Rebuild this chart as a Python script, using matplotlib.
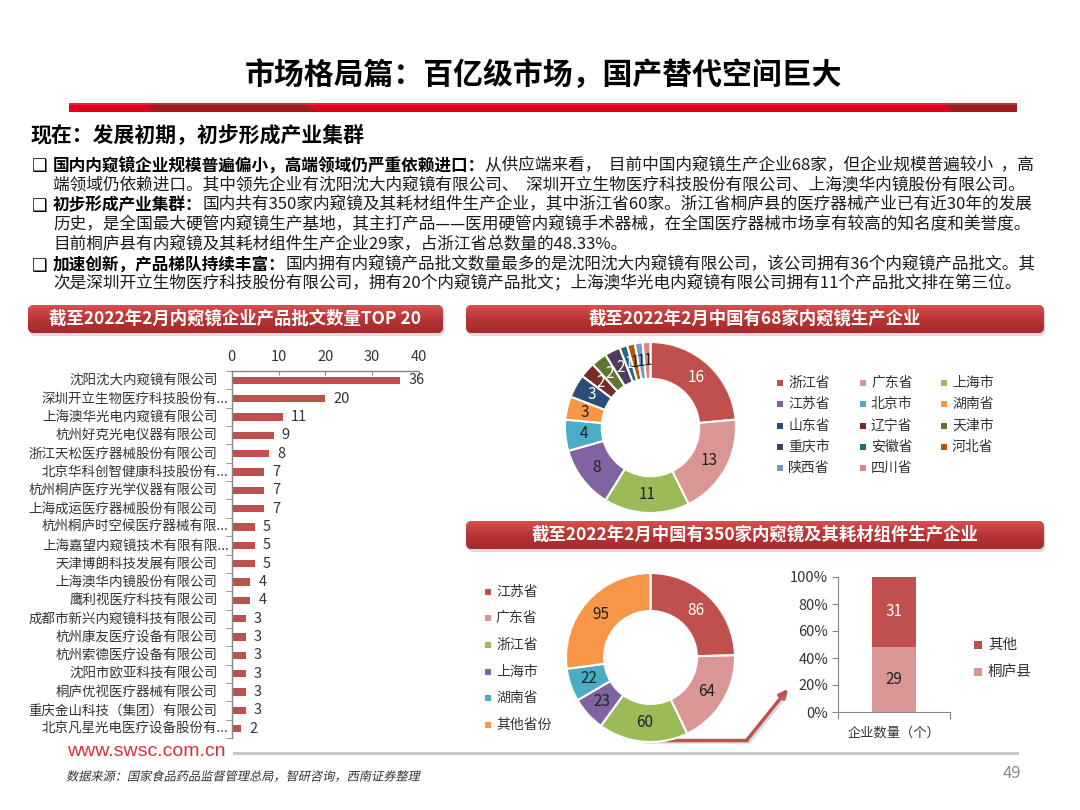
import numpy as np
import matplotlib
matplotlib.use('Agg')
import matplotlib.pyplot as plt
from matplotlib.patches import FancyBboxPatch, Rectangle, Polygon, PathPatch, FancyArrowPatch
from matplotlib.colors import LinearSegmentedColormap
from matplotlib.textpath import TextPath
from matplotlib.font_manager import FontProperties
import matplotlib.transforms as mtransforms

plt.rcParams['font.family'] = ['Noto Sans CJK SC', 'DejaVu Sans']

# ---------------- data ----------------
companies = ['沈阳沈大内窥镜有限公司', '深圳开立生物医疗科技股份有...', '上海澳华光电内窥镜有限公司',
             '杭州好克光电仪器有限公司', '浙江天松医疗器械股份有限公司', '北京华科创智健康科技股份有...',
             '杭州桐庐医疗光学仪器有限公司', '上海成运医疗器械股份有限公司', '杭州桐庐时空候医疗器械有限...',
             '上海嘉望内窥镜技术有限有限...', '天津博朗科技发展有限公司', '上海澳华内镜股份有限公司',
             '鹰利视医疗科技有限公司', '成都市新兴内窥镜科技有限公司', '杭州康友医疗设备有限公司',
             '杭州索德医疗设备有限公司', '沈阳市欧亚科技有限公司', '桐庐优视医疗器械有限公司',
             '重庆金山科技（集团）有限公司', '北京凡星光电医疗设备股份有...']
approvals = [36, 20, 11, 9, 8, 7, 7, 7, 5, 5, 5, 4, 4, 3, 3, 3, 3, 3, 3, 2]
bar_ticks = [0, 10, 20, 30, 40]

provinces68 = ['浙江省', '广东省', '上海市', '江苏省', '北京市', '湖南省', '山东省',
               '辽宁省', '天津市', '重庆市', '安徽省', '河北省', '陕西省', '四川省']
counts68 = [16, 13, 11, 8, 4, 3, 3, 2, 2, 2, 1, 1, 1, 1]
colors68 = ['#c0504d', '#d99694', '#9bbb59', '#8064a2', '#4bacc6', '#f79646', '#2c4d75',
            '#772c2a', '#5f7530', '#4d3b62', '#276a7c', '#b65708', '#729aca', '#d98785']
labcol68 = ['white', '#222', '#222', '#222', '#222', '#222', 'white',
            'white', 'white', 'white', 'white', '#222', '#222', '#222']

provinces350 = ['江苏省', '广东省', '浙江省', '上海市', '湖南省', '其他省份']
counts350 = [86, 64, 60, 23, 22, 95]
colors350 = ['#c0504d', '#d99694', '#9bbb59', '#8064a2', '#4bacc6', '#f79646']
labcol350 = ['white', '#222', '#222', '#222', '#222', '#222']

zj_labels = ['桐庐县', '其他']
zj_counts = [29, 31]
zj_colors = ['#d99694', '#c0504d']
pct_ticks = [0, 20, 40, 60, 80, 100]

title = '市场格局篇：百亿级市场，国产替代空间巨大'
heading = '现在：发展初期，初步形成产业集群'
body = [
    (True, [('国内内窥镜企业规模普遍偏小，高端领域仍严重依赖进口：', True),
            ('从供应端来看，  目前中国内窥镜生产企业68家，但企业规模普遍较小  ，高', False)]),
    (False, [('端领域仍依赖进口。其中领先企业有沈阳沈大内窥镜有限公司、  深圳开立生物医疗科技股份有限公司、上海澳华内镜股份有限公司。', False)]),
    (True, [('初步形成产业集群：', True),
            ('国内共有350家内窥镜及其耗材组件生产企业，其中浙江省60家。浙江省桐庐县的医疗器械产业已有近30年的发展', False)]),
    (False, [('历史，是全国最大硬管内窥镜生产基地，其主打产品——医用硬管内窥镜手术器械，在全国医疗器械市场享有较高的知名度和美誉度。', False)]),
    (False, [('目前桐庐县有内窥镜及其耗材组件生产企业29家，占浙江省总数量的48.33%。', False)]),
    (True, [('加速创新，产品梯队持续丰富：', True),
            ('国内拥有内窥镜产品批文数量最多的是沈阳沈大内窥镜有限公司，该公司拥有36个内窥镜产品批文。其', False)]),
    (False, [('次是深圳开立生物医疗科技股份有限公司，拥有20个内窥镜产品批文；上海澳华光电内窥镜有限公司拥有11个产品批文排在第三位。', False)]),
]
body_y = [166, 186, 205, 225, 245, 265, 284]
box_titles = ['截至2022年2月内窥镜企业产品批文数量TOP 20',
              '截至2022年2月中国有68家内窥镜生产企业',
              '截至2022年2月中国有350家内窥镜及其耗材组件生产企业']
source = '数据来源：国家食品药品监督管理总局，智研咨询，西南证券整理'

# ---------------- figure ----------------
W, H = 1080, 810
fig = plt.figure(figsize=(10.8, 8.1), dpi=100)
fig.patch.set_facecolor('white')
bg = fig.add_axes([0, 0, 1, 1])
bg.set_xlim(0, W)
bg.set_ylim(H, 0)
bg.axis('off')
bg.set_autoscale_on(False)
bg.set_zorder(0)


def rect(x0, y0, w, h):
    return [x0 / W, 1 - (y0 + h) / H, w / W, h / H]


# title
bg.text(544, 76, title, ha='center', va='center', fontsize=21.5, fontweight='bold', color='black')
# red rule
bg.add_patch(Polygon([[69, 103], [1017, 103], [1017, 112], [69, 112]], closed=True, color='#e2001a', lw=0))
bg.add_patch(Polygon([[145, 103], [305, 103], [318, 112], [157, 112]], closed=True, color='#a3191c', lw=0))
bg.add_patch(Polygon([[945, 103], [1017, 103], [1017, 112], [952, 112]], closed=True, color='#9e1b1e', lw=0))
bg.add_patch(Rectangle((69, 103), 948, 2, color='white', alpha=0.15, lw=0))

# heading
bg.text(31, 135, heading, ha='left', va='center', fontsize=15, fontweight='bold', color='black')

# body paragraphs
renderer = fig.canvas.get_renderer()
for (has_bullet, runs), yy in zip(body, body_y):
    if has_bullet:
        bg.text(32, yy + 0.5, '❑', ha='left', va='center', fontsize=12.5,
                family=['DejaVu Sans'], color='black')
    x = 53
    for txt, bold in runs:
        t = bg.text(x, yy, txt, ha='left', va='center', fontsize=12,
                    fontweight='bold' if bold else 'normal',
                    color='black' if bold else '#1a1a1a')
        bb = t.get_window_extent(renderer)
        x = bb.x1


# section header boxes
cmap_hdr = LinearSegmentedColormap.from_list('hdr', ['#d85050', '#b83535', '#a32a2a'])
grad = np.linspace(0, 1, 64).reshape(-1, 1)


def header_box(x0, y0, x1, y1, text, cx):
    sh = FancyBboxPatch((x0 + 1.5, y0 + 3), x1 - x0, y1 - y0,
                        boxstyle='round,pad=0,rounding_size=6', fc='#9a9a9a', ec='none', alpha=0.35)
    bg.add_patch(sh)
    p = FancyBboxPatch((x0, y0), x1 - x0, y1 - y0,
                       boxstyle='round,pad=0,rounding_size=6', fc='#c03a3a', ec='none')
    bg.add_patch(p)
    im = bg.imshow(grad, extent=(x0, x1, y1, y0), cmap=cmap_hdr, aspect='auto',
                   origin='upper', interpolation='bilinear', zorder=2)
    im.set_clip_path(p)
    bg.text(cx, (y0 + y1) / 2, text, ha='center', va='center', fontsize=12.5,
            fontweight='bold', color='white', zorder=3)


header_box(28, 305, 443, 333, box_titles[0], 235)
header_box(466, 305, 1044, 333, box_titles[1], 755)
header_box(466, 521, 1044, 549, box_titles[2], 755)

# ---------------- bar chart ----------------
axb = fig.add_axes(rect(231.7, 371, 187.3, 367))
axb.set_zorder(1)
axb.patch.set_alpha(0)
yy = np.arange(len(companies))
axb.barh(yy, approvals, height=0.4, color='#c0504d')
axb.set_xlim(0, 40)
axb.set_ylim(len(companies) - 0.5, -0.5)
axb.xaxis.tick_top()
axb.set_xticks(bar_ticks)
axb.set_xticklabels([str(v) for v in bar_ticks])
axb.tick_params(axis='x', direction='in', length=3, labelsize=10.5, pad=5,
                colors='#868686', labelcolor='#333333')
axb.set_yticks([])
axb.set_yticks(np.arange(-0.5, len(companies), 1), minor=True)
axb.tick_params(axis='y', which='minor', direction='out', length=4, color='#868686')
axb.tick_params(axis='y', which='minor', labelleft=False)
for s in ['right', 'bottom']:
    axb.spines[s].set_visible(False)
for s in ['left', 'top']:
    axb.spines[s].set_color('#868686')
    axb.spines[s].set_linewidth(1)
ytr = axb.get_yaxis_transform()
for i, (name, v) in enumerate(zip(companies, approvals)):
    off = -3 if name.endswith('...') else -14
    tr = mtransforms.offset_copy(ytr, fig=fig, x=off, y=0, units='dots')
    axb.text(0, i, name, transform=tr, ha='right', va='center', fontsize=9.7, color='#333333')
    axb.annotate(str(v), (v, i), xytext=(8, 0), textcoords='offset pixels',
                 ha='left', va='center', fontsize=10.5, color='#333333')


# ---------------- donuts ----------------
def donut(rc, values, colors, labcols, width):
    ax = fig.add_axes(rc)
    ax.set_zorder(1)
    wedges, _ = ax.pie(values, colors=colors, startangle=90, counterclock=False, radius=1,
                       wedgeprops=dict(width=width, edgecolor='white', linewidth=1.5))
    ax.set_xlim(-1, 1)
    ax.set_ylim(-1, 1)
    ax.set_aspect('equal')
    rm = 1 - width / 2
    for w, v, c in zip(wedges, values, labcols):
        ang = np.deg2rad((w.theta1 + w.theta2) / 2)
        ax.text(rm * np.cos(ang), rm * np.sin(ang), str(v), ha='center', va='center',
                fontsize=11, color=c)
    return ax


donut(rect(565, 342, 171, 171), counts68, colors68, labcol68, 0.43)

# legend 1 (3 columns)
leg_x = [777, 860, 941]
leg_y = [383, 404, 426, 447, 468]
for k, (name, c) in enumerate(zip(provinces68, colors68)):
    col, row = k % 3, k // 3
    x, y = leg_x[col], leg_y[row]
    bg.add_patch(Rectangle((x, y - 3), 6, 6, color=c, lw=0))
    bg.text(x + 11, y, name, ha='left', va='center', fontsize=10, color='#333333')

donut(rect(566, 573, 169, 169), counts350, colors350, labcol350, 0.45)
for k, (name, c) in enumerate(zip(provinces350, colors350)):
    y = [592, 618, 645, 672, 698, 725][k]
    bg.add_patch(Rectangle((485, y - 3), 6, 6, color=c, lw=0))
    bg.text(496, y, name, ha='left', va='center', fontsize=10, color='#333333')

# ---------------- stacked 100% bar ----------------
axs = fig.add_axes(rect(838, 577, 112, 135))
axs.set_zorder(1)
axs.patch.set_alpha(0)
fr = np.array(zj_counts) / np.sum(zj_counts)
bottom = 0
for v, f, c, tc in zip(zj_counts, fr, zj_colors, ['#222', 'white']):
    axs.bar(0.5, f, bottom=bottom, width=0.4, color=c)
    axs.text(0.5, bottom + f / 2, str(v), ha='center', va='center', fontsize=11, color=tc)
    bottom += f
axs.set_xlim(0, 1)
axs.set_ylim(0, 1)
axs.set_yticks(np.array(pct_ticks) / 100)
axs.set_yticklabels([f'{p}%' for p in pct_ticks])
axs.set_xticks([0, 1])
axs.set_xticklabels(['', ''])
axs.tick_params(axis='y', direction='out', length=4, labelsize=10.5, pad=3,
                colors='#868686', labelcolor='#333333')
axs.tick_params(axis='x', direction='out', length=5, colors='#868686')
for s in ['right', 'top']:
    axs.spines[s].set_visible(False)
for s in ['left', 'bottom']:
    axs.spines[s].set_color('#868686')
axs.text(0.5, -0.16, '企业数量（个）', transform=axs.transAxes, ha='center', va='center',
         fontsize=9.5, color='#333333')
for name, c, y in zip(zj_labels[::-1], zj_colors[::-1], [645, 672]):
    bg.add_patch(Rectangle((974, y - 4), 8, 8, color=c, lw=0))
    bg.text(988, y, name, ha='left', va='center', fontsize=10.5, color='#333333')

# ---------------- arrow ----------------
bg.plot([646, 749, 786], [742, 742, 696], color='#9a9a9a', lw=2.5, alpha=0.35, solid_capstyle='butt')
bg.plot([645, 748], [740, 740], color='#c0504d', lw=2.5, solid_capstyle='butt')
bg.add_patch(FancyArrowPatch((747, 740), (788, 689), arrowstyle='-|>', mutation_scale=12,
                             color='#c0504d', lw=2.5, shrinkA=0, shrinkB=0))

# ---------------- footer ----------------
bg.text(67, 752, 'www.swsc.com.cn', ha='left', va='center', fontsize=14,
        family=['Liberation Sans'], color='#d9303e')
bg.plot([234, 1017], [753, 753], color='#c8c8c8', lw=2.2)
fp = FontProperties(family='Noto Sans CJK SC')
tp = TextPath((0, 0), source, size=12.2, prop=fp)
src = PathPatch(tp, facecolor='#333333', lw=0,
                transform=mtransforms.Affine2D().skew_deg(12, 0).translate(66, H - 780.5))
fig.add_artist(src)
bg.text(1021, 774, '49', ha='right', va='center', fontsize=12, color='#8c8c8c')

fig.savefig('out.png', dpi=100, facecolor='white')
